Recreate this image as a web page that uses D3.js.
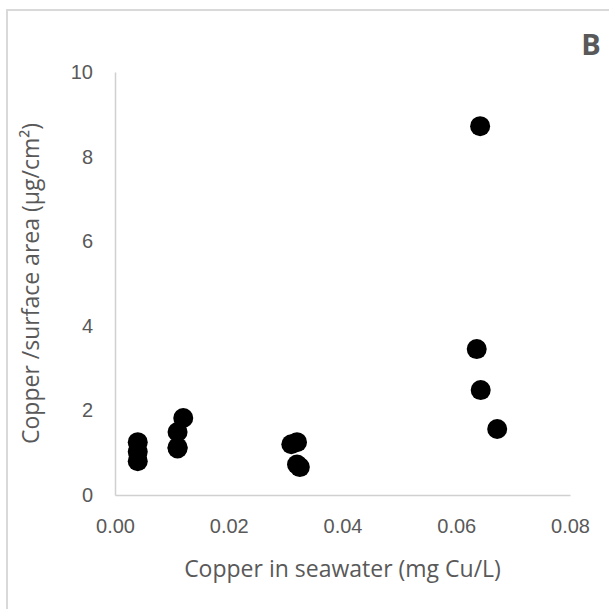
<!DOCTYPE html>
<html>
<head>
<meta charset="utf-8">
<script src="https://cdn.jsdelivr.net/npm/d3@7"></script>
<style>
  body { margin: 0; background: #fff; }
  svg { display: block; font-family: "Open Sans", "Liberation Sans", sans-serif; }
</style>
</head>
<body>
<svg id="chart" width="609" height="609"></svg>
<script>
// copper in seawater (mg Cu/L) vs copper per surface area (ug/cm2)
var xValues = [0.004, 0.004, 0.004, 0.011, 0.011, 0.011, 0.012, 0.031, 0.032, 0.032, 0.0325, 0.0636, 0.0642, 0.0643, 0.0672];
var yValues = [1.25, 1.02, 0.80, 1.13, 1.10, 1.49, 1.82, 1.20, 1.25, 0.72, 0.66, 3.45, 8.72, 2.48, 1.56];
var xTicks = [0, 0.02, 0.04, 0.06, 0.08];
var yTicks = [0, 2, 4, 6, 8, 10];

var svg = d3.select("#chart");
var plotLeft = 115, plotRight = 570, plotTop = 72, plotBottom = 495;

// outer frame
svg.append("rect")
    .attr("x", 7).attr("y", 10)
    .attr("width", 620).attr("height", 620)
    .attr("fill", "none")
    .attr("stroke", "#d9d9d9")
    .attr("stroke-width", 2);

var x = d3.scaleLinear().domain([0, 0.08]).range([plotLeft, plotRight]);
var y = d3.scaleLinear().domain([0, 10]).range([plotBottom, plotTop]);

var xAxis = svg.append("g")
    .attr("transform", "translate(0," + plotBottom + ")")
    .call(d3.axisBottom(x).tickValues(xTicks).tickFormat(d3.format(".2f")).tickSize(0).tickPadding(24));
var yAxis = svg.append("g")
    .attr("transform", "translate(" + plotLeft + ",0)")
    .call(d3.axisLeft(y).tickValues(yTicks).tickSize(0).tickPadding(22));

[xAxis, yAxis].forEach(function (g) {
    g.select(".domain").attr("stroke", "#d0d0d0").attr("stroke-width", 1.5);
    g.selectAll("text").attr("fill", "#595959").style("font-size", "20px");
});

svg.append("g")
    .selectAll("circle")
    .data(xValues)
    .enter().append("circle")
    .attr("cx", function (d) { return x(d); })
    .attr("cy", function (d, i) { return y(yValues[i]); })
    .attr("r", 10)
    .attr("fill", "#000");

svg.append("text")
    .attr("x", (plotLeft + plotRight) / 2)
    .attr("y", 577)
    .attr("text-anchor", "middle")
    .attr("fill", "#595959")
    .style("font-size", "23px")
    .text("Copper in seawater (mg Cu/L)");

svg.append("text")
    .attr("transform", "translate(39," + ((plotTop + plotBottom) / 2) + ") rotate(-90)")
    .attr("text-anchor", "middle")
    .attr("fill", "#595959")
    .style("font-size", "23px")
    .text("Copper /surface area (µg/cm²)");

svg.append("text")
    .attr("x", 591)
    .attr("y", 55)
    .attr("text-anchor", "middle")
    .attr("fill", "#595959")
    .style("font-size", "29px")
    .style("font-weight", "bold")
    .text("B");
</script>
</body>
</html>
